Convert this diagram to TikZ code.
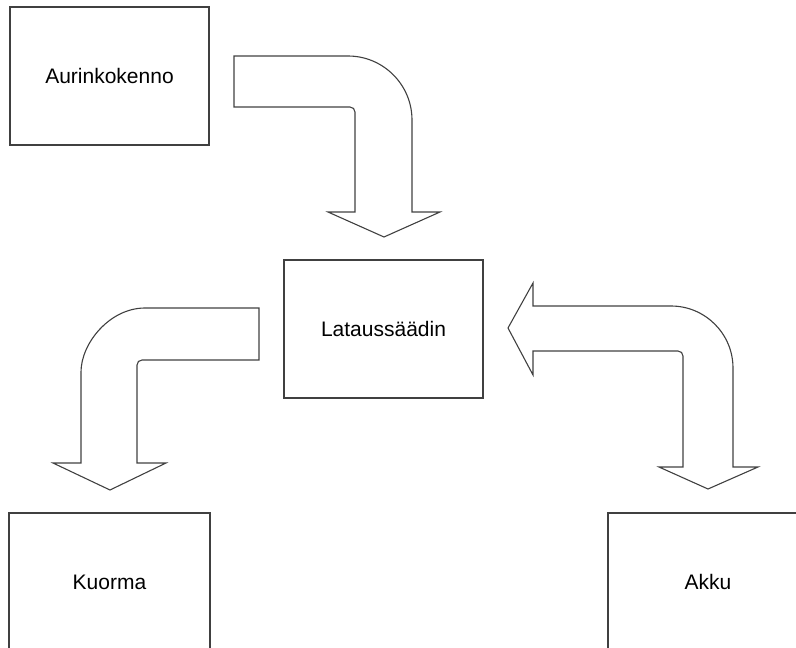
\documentclass[tikz,border=0pt]{standalone}
\usepackage{fontspec}
\setmainfont{Liberation Sans}
\usepackage{tikz}
\tikzset{
  bnode/.style = {rectangle, draw=black!75, line width=1.1pt, inner sep=0pt, align=center,
                  minimum width=199pt, minimum height=138pt, font=\fontsize{21}{25}\selectfont},
  barrow/.style = {draw=black!75, line width=1.1pt, line join=miter},
}
\begin{document}
\begin{tikzpicture}[x=1pt, y=-1pt]
\useasboundingbox (0,0) rectangle (796,648);
\node [bnode] (aurinko) at (109.5,76) {Aurinkokenno};
\node [bnode] (saadin) at (383.5,329) {Lataussäädin};
\node [bnode, minimum width=201pt] (kuorma) at (109.5,582) {Kuorma};
\node [bnode, minimum width=200pt] (akku) at (708,582) {Akku};
\draw [barrow] (234,56) -- (348,56) .. controls (383.3,56) and (412,84.7) .. (412,120)
  -- (412,212) -- (440,212) -- (384,237) -- (328,212) -- (355,212) -- (355,112)
  .. controls (355,109.2) and (352.8,107) .. (350,107) -- (234,107) -- cycle;
\draw [barrow] (259,308) -- (145,308) .. controls (109.7,308) and (81,343.3) .. (81,372)
  -- (81,463) -- (53,463) -- (110,490) -- (166,463) -- (137,463) -- (137,365)
  .. controls (137,362.2) and (139.2,360) .. (142,360) -- (259,360) -- cycle;
\draw [barrow] (508,328) -- (533,283) -- (533,306) -- (671,306)
  .. controls (705.2,306) and (733,333.8) .. (733,368) -- (733,467) -- (758,467)
  -- (708,489) -- (659,467) -- (683,467) -- (683,356)
  .. controls (683,353.2) and (680.8,351) .. (678,351) -- (533,351) -- (533,375) -- cycle;
\end{tikzpicture}
\end{document}
